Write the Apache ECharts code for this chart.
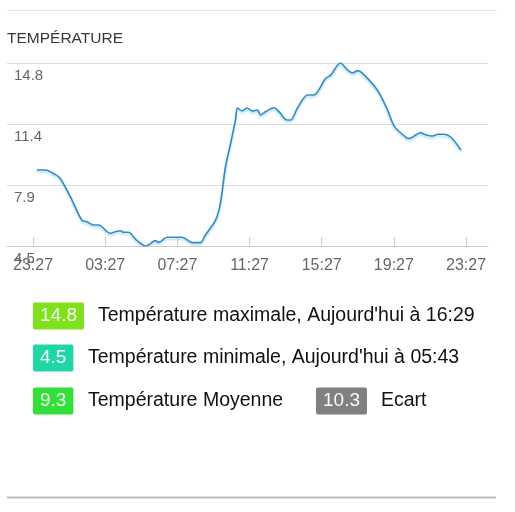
<!DOCTYPE html>
<html>
<head>
<meta charset="utf-8">
<script src="https://cdn.jsdelivr.net/npm/echarts@6/dist/echarts.min.js"></script>
<style>
html,body{margin:0;padding:0;background:#fff;}
#chart{width:515px;height:512px;}
</style>
</head>
<body>
<div id="chart"></div>
<script>
// ---- data ----
var times = ['23:39','00:07','00:40','00:57','01:31','02:09','02:26','02:48','03:05','03:44','03:55','04:17','04:28','04:44','05:13','05:43','06:14','06:25','06:53','07:43','08:16','08:44','09:00','09:34','09:50','10:07','10:24','10:40','10:47','11:02','11:19','11:36','11:53','12:04','12:20','12:48','13:05','13:32','13:44','14:06','14:40','15:01','15:40','15:57','16:29','16:53','17:10','17:26','17:43','18:32','19:06','19:28','20:07','20:18','20:40','20:57','21:08','21:36','21:53','22:14','22:37','23:10'];
var temps = [8.78,8.78,8.53,8.31,7.28,5.96,5.87,5.68,5.68,5.21,5.27,5.36,5.27,5.27,4.80,4.50,4.80,4.71,4.99,4.99,4.69,4.69,5.12,5.96,6.90,8.96,10.28,11.59,12.27,12.10,12.27,12.10,12.15,11.87,12.06,12.28,12.06,11.59,11.59,12.25,13.00,13.00,13.94,14.12,14.80,14.41,14.25,14.37,14.22,13.28,12.15,11.25,10.62,10.56,10.75,10.88,10.79,10.69,10.79,10.79,10.62,9.90];
var tickLabels = ['23:27','03:27','07:27','11:27','15:27','19:27','23:27'];
var yMin = 4.5, yMax = 14.8;
var title = 'TEMPÉRATURE';
var statValues = ['14.8','4.5','9.3','10.3'];
var statLabels = ["Température maximale, Aujourd'hui à 16:29", "Température minimale, Aujourd'hui à 05:43", 'Température Moyenne', 'Ecart'];

// ---- build ----
var startMin = 23*60+27;
function toOffset(s){
  var p = s.split(':'); var t = (+p[0])*60 + (+p[1]);
  return t >= startMin ? t - startMin : t + 1440 - startMin;
}
var seriesData = times.map(function(t,i){ return [toOffset(t), temps[i]]; });
var tickVals = tickLabels.map(function(l,i){ return i*240; });

var FONT = "'Liberation Sans', Arial, sans-serif";
var boxColors = ['#80e01e','#1fd6a6','#33e03a','#808080'];
var rowY = [316, 358, 401, 401];
var boxX = [33, 33, 33, 316];
var labelX = [98, 88, 88, 381];

var graphics = [
  {type:'line', shape:{x1:7,y1:10.5,x2:497,y2:10.5}, style:{stroke:'#e2e2e2',lineWidth:1}},
  {type:'text', x:7, y:31, style:{text:title, font:'15.5px '+FONT, fill:'#383838'}},
  {type:'line', shape:{x1:7,y1:497.5,x2:496,y2:497.5}, style:{stroke:'#bbbbbb',lineWidth:2}}
];
statValues.forEach(function(v,i){
  graphics.push({type:'text', x:boxX[i], y:rowY[i], style:{
    text:v, font:'19px '+FONT, fill:'#f4fff4', verticalAlign:'middle',
    backgroundColor:boxColors[i], padding:[4,7,4,7], borderRadius:2
  }});
  graphics.push({type:'text', x:labelX[i], y:rowY[i], style:{
    text:statLabels[i], font:'19.5px '+FONT, fill:'#111', verticalAlign:'middle'
  }});
});

var chart = echarts.init(document.getElementById('chart'), null, {renderer:'canvas'});
chart.setOption({
  animation:false,
  grid:{left:7, right:27, top:63, bottom:266, containLabel:false},
  xAxis:{
    type:'value', min:-86.7, max:1513,
    axisLine:{show:true, lineStyle:{color:'#cccccc'}},
    axisTick:{show:true, inside:true, length:9, customValues:tickVals, lineStyle:{color:'#cccccc'}},
    axisLabel:{customValues:tickVals, color:'#666', fontSize:16, fontFamily:FONT, margin:12,
      formatter:function(v){ return tickLabels[Math.round(v/240)]; }},
    splitLine:{show:false}
  },
  yAxis:{
    type:'value', min:yMin, max:yMax, interval:(yMax-yMin)/3,
    axisLine:{show:false}, axisTick:{show:false},
    axisLabel:{inside:true, margin:7, align:'left', verticalAlign:'top', padding:[5,0,0,0],
      color:'#666', fontSize:15, fontFamily:FONT, showMinLabel:true, showMaxLabel:true,
      formatter:function(v){ return v.toFixed(1); }},
    splitLine:{lineStyle:{color:'#dddddd'}}
  },
  series:[{
    type:'line', data:seriesData, showSymbol:false, smooth:0.3,
    lineStyle:{color:'#2f8dbf', width:1.6, shadowColor:'rgba(120,190,240,0.6)', shadowBlur:2, shadowOffsetY:2}
  }],
  graphic:graphics
});
</script>
</body>
</html>
